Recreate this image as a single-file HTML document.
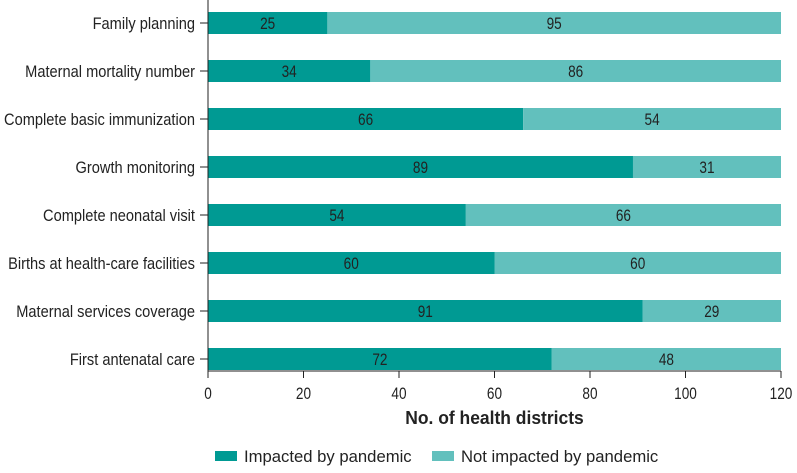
<!DOCTYPE html>
<html><head><meta charset="utf-8"><style>
body{margin:0;background:#fff}
svg text{font-family:"Liberation Sans",sans-serif;fill:#222}
</style></head><body>
<svg width="797" height="468" id="c"></svg>
<script>
const categories=["Family planning","Maternal mortality number","Complete basic immunization","Growth monitoring","Complete neonatal visit","Births at health-care facilities","Maternal services coverage","First antenatal care"];
const impacted=[25,34,66,89,54,60,91,72];
const notImpacted=[95,86,54,31,66,60,29,48];
const xTicks=[0,20,40,60,80,100,120];
const svg=document.getElementById('c');
const NS='http://www.w3.org/2000/svg';
const x0=208,x1=781,xMax=120;
const X=v=>x0+(x1-x0)*v/xMax;
const Y=i=>23+i*48;
function mk(t,a,txt){const e=document.createElementNS(NS,t);for(const k in a)e.setAttribute(k,a[k]);if(txt!==undefined)e.textContent=txt;svg.appendChild(e);return e;}
function condense(t,f){const w=t.getComputedTextLength();t.setAttribute('textLength',w*f);t.setAttribute('lengthAdjust','spacingAndGlyphs');}
categories.forEach((c,i)=>{
 const y=Y(i);
 let r=mk('rect',{x:X(0),y:y-11,width:X(impacted[i])-X(0),height:22,fill:'#009a93'});
 
 
 r=mk('rect',{x:X(impacted[i]),y:y-11,width:X(impacted[i]+notImpacted[i])-X(impacted[i]),height:22,fill:'#62c0bd'});
 
 
 let t=mk('text',{x:X(impacted[i]/2),y:y+6,'text-anchor':'middle','font-size':17},impacted[i]);
 
 
 condense(t,0.8);
 t=mk('text',{x:X(impacted[i]+notImpacted[i]/2),y:y+6,'text-anchor':'middle','font-size':17},notImpacted[i]);
 
 
 condense(t,0.8);
 t=mk('text',{x:195,y:y+6,'text-anchor':'end','font-size':17},c);
 
 
 condense(t,0.86);
 const l=mk('line',{x1:200,x2:208,y1:y,y2:y,stroke:'#222','stroke-width':1});
 
 
});
let ax=mk('line',{x1:208,x2:208,y1:0,y2:371,stroke:'#222','stroke-width':1});


ax=mk('line',{x1:208,x2:X(120),y1:371,y2:371,stroke:'#222','stroke-width':1});


xTicks.forEach(v=>{
 const l=mk('line',{x1:X(v),x2:X(v),y1:371,y2:378,stroke:'#222','stroke-width':1});
 
 
 const t=mk('text',{x:X(v),y:399,'text-anchor':'middle','font-size':17},v);
 
 
 condense(t,0.8);
});
let tt=mk('text',{x:X(60),y:424,'text-anchor':'middle','font-size':18,'font-weight':'bold'},'No. of health districts');


condense(tt,0.97);
let lg=mk('rect',{x:215,y:451,width:22,height:10,fill:'#009a93'});


lg=mk('text',{x:244,y:462,'font-size':17},'Impacted by pandemic');


condense(lg,0.98);
lg=mk('rect',{x:432,y:451,width:22,height:10,fill:'#62c0bd'});


lg=mk('text',{x:461,y:462,'font-size':17},'Not impacted by pandemic');


condense(lg,0.98);
</script>
</body></html>
